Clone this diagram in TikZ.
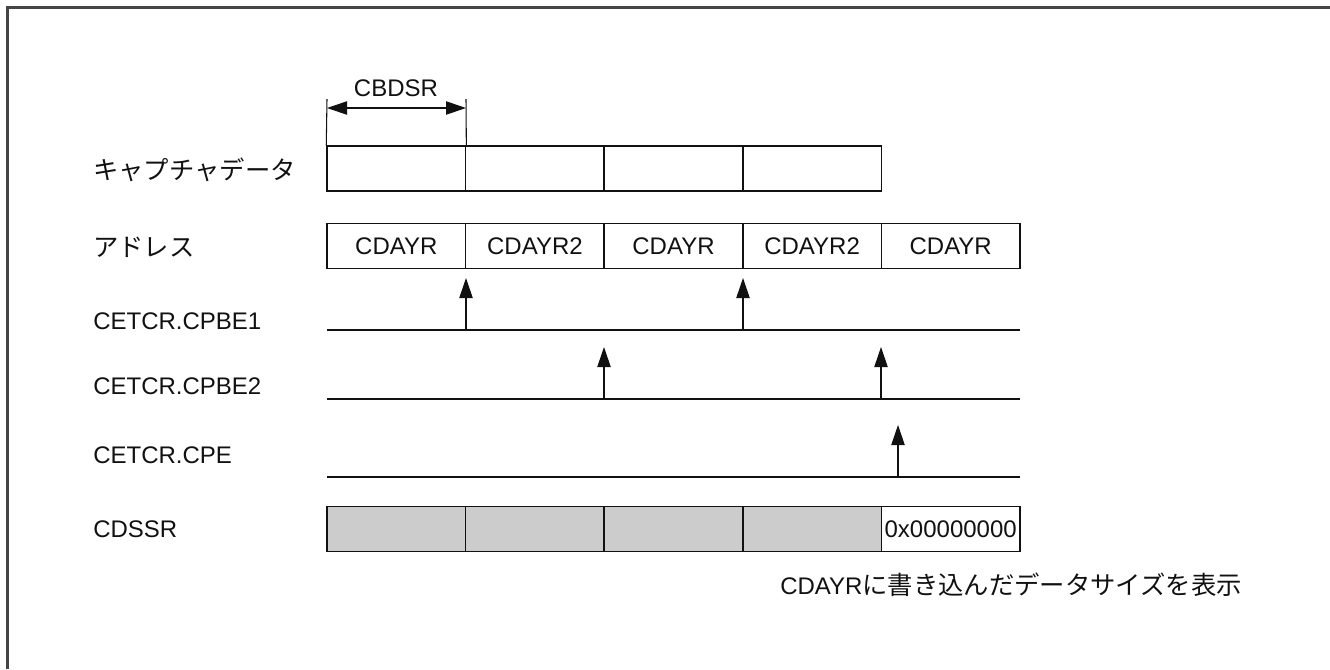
\documentclass[tikz,border=0pt]{standalone}
\usepackage{fontspec}
\setmainfont{Liberation Sans}
\newfontfamily\jpfont{Noto Sans CJK JP}
\usetikzlibrary{arrows.meta,positioning}
\definecolor{ink}{HTML}{111111}
\definecolor{framegrey}{HTML}{454545}
\definecolor{shade}{HTML}{CCCCCC}
\newcommand{\jp}[1]{{\jpfont\fontsize{19pt}{22pt}\selectfont #1}}
\tikzset{
  font=\fontsize{18pt}{21pt}\selectfont,
  >={Triangle[length=15pt,width=10pt]},
  cell/.style={draw=ink, line width=1.1pt, minimum width=103.95pt,
               minimum height=33.75pt, inner sep=0pt, text=ink},
  greycell/.style={cell, fill=shade},
  lbl/.style={anchor=west, inner sep=0pt, text=ink},
  signal/.style={draw=ink, line width=1.1pt},
  pulse/.style={draw=ink, line width=0.8pt, ->},
  span/.style={draw=ink, line width=0.8pt, <->},
  ext/.style={draw=ink, line width=0.8pt},
  border/.style={draw=framegrey, line width=1.6pt}
}

\begin{document}
\begin{tikzpicture}[x=0.75pt,y=-0.75pt]
\useasboundingbox (0,0) rectangle (1330,669);

% Outer frame, open towards right and bottom.
\draw[border] (1330,7.5) -- (7.5,7.5) -- (7.5,669);

% Row labels.
\node[lbl] (lcap)  at (93,170) {\jp{キャプチャデータ}};
\node[lbl] (ladr)  at (93,247) {\jp{アドレス}};
\node[lbl] (lpb1)  at (93,321) {CETCR.CPBE1};
\node[lbl] (lpb2)  at (93,386) {CETCR.CPBE2};
\node[lbl] (lcpe)  at (93,455) {CETCR.CPE};
\node[lbl] (lssr)  at (93,529) {CDSSR};

% Capture data and address cells.
\foreach \i in {1,...,4}
  \node[cell] (cap\i) at ({327+138.6*(\i-0.5)},168.5) {};
\foreach \i/\t in {1/CDAYR,2/CDAYR2,3/CDAYR,4/CDAYR2,5/CDAYR}
  \node[cell] (adr\i) at ({327+138.6*(\i-0.5)},246) {\t};

% CBDSR span over the first cell.
\coordinate (spanl) at (327,99);
\coordinate (spanr) at (466,99);
\draw[ext] (spanl) -- (cap1.north west);
\draw[ext] (spanr) -- (cap1.north east);
\coordinate (spanal) at (327,108);
\coordinate (spanar) at (466,108);
\draw[span] (spanal) -- (spanar);
\node[text=ink] (cbdsr) at (396,88) {CBDSR};

% Signal lines with trigger pulses.
\foreach \n/\y in {pb1/330,pb2/399,cpe/477}{
  \coordinate (\n l) at (327,\y);
  \coordinate (\n r) at (1020,\y);
  \draw[signal] (\n l) -- (\n r);
}
\foreach \n/\x/\y/\t in {pa/466/330/278,pb/743/330/278,pc/604/399/347,
                          pd/881/399/347,pe/898/477/425}{
  \coordinate (\n foot) at (\x,\y);
  \coordinate (\n tip) at (\x,\t);
  \draw[pulse] (\n foot) -- (\n tip);
}

% CDSSR cells.
\foreach \i in {1,...,4}
  \node[greycell] (ssr\i) at ({327+138.6*(\i-0.5)},529) {};
\node[cell] (ssr5) at ({327+138.6*4.5},529) {0x00000000};

\node[lbl] (note) at (780,585) {CDAYR\jp{に書き込んだデータサイズを表示}};

\end{tikzpicture}
\end{document}
